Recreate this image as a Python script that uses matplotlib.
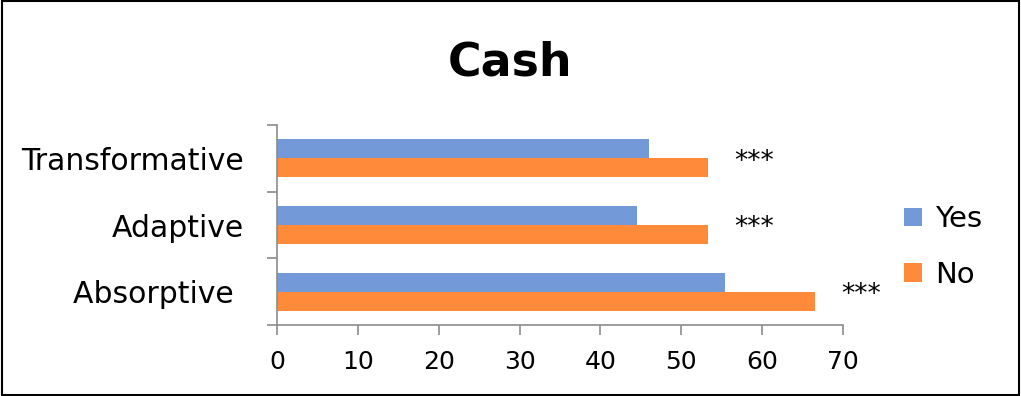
import matplotlib.pyplot as plt
from matplotlib.patches import Rectangle
import numpy as np

categories = ["Absorptive ", "Adaptive", "Transformative"]
yes_values = [55.4, 44.5, 46.0]
no_values = [66.5, 53.3, 53.3]
stars = ["***", "***", "***"]

blue = "#7399D9"
orange = "#FF8A3A"
axis_grey = "#8C8C8C"

plt.rcParams["font.family"] = ["DejaVu Sans"]

fig = plt.figure(figsize=(10.21, 3.96), dpi=100)
ax = fig.add_axes([0.2713, 0.1793, 0.5544, 0.505])

y = np.arange(len(categories))
h = 0.286
ax.barh(y + h / 2, yes_values, height=h, color=blue, label="Yes")
ax.barh(y - h / 2, no_values, height=h, color=orange, label="No")

# significance markers just past the "No" bars
for yi, v, s in zip(y, no_values, stars):
    ax.text(v + 3.3, yi - 0.05, s, fontsize=19, ha="left", va="center")

ax.set_xlim(0, 70)
ax.set_ylim(-0.5, 2.5)
ax.set_xticks(range(0, 71, 10))
ax.set_yticks([-0.5, 0.5, 1.5, 2.5])
ax.set_yticklabels([])
ax.set_yticks(y, minor=True)
ax.set_yticklabels(categories, minor=True, fontsize=21.5)
ax.tick_params(axis="y", which="minor", length=0, pad=24)
ax.tick_params(axis="y", which="major", length=7, color=axis_grey, width=1.2)
ax.tick_params(axis="x", length=7, color=axis_grey, width=1.2, labelsize=18, pad=11)

for side in ["top", "right"]:
    ax.spines[side].set_visible(False)
for side in ["left", "bottom"]:
    ax.spines[side].set_color(axis_grey)
    ax.spines[side].set_linewidth(1.2)

fig.suptitle("Cash", fontsize=33, fontweight="bold", x=0.5, y=0.84, va="center")

ax.legend(loc="center left", bbox_to_anchor=(1.062, 0.39), frameon=False,
          fontsize=21, handlelength=0.6, handleheight=0.6, handletextpad=0.45,
          labelspacing=0.95)

# outer frame around the whole figure
fig.patches.append(Rectangle((0.002, 0.003), 0.996, 0.994, transform=fig.transFigure,
                             fill=False, edgecolor="black", linewidth=1.5))

fig.savefig("out.png", dpi=100)
